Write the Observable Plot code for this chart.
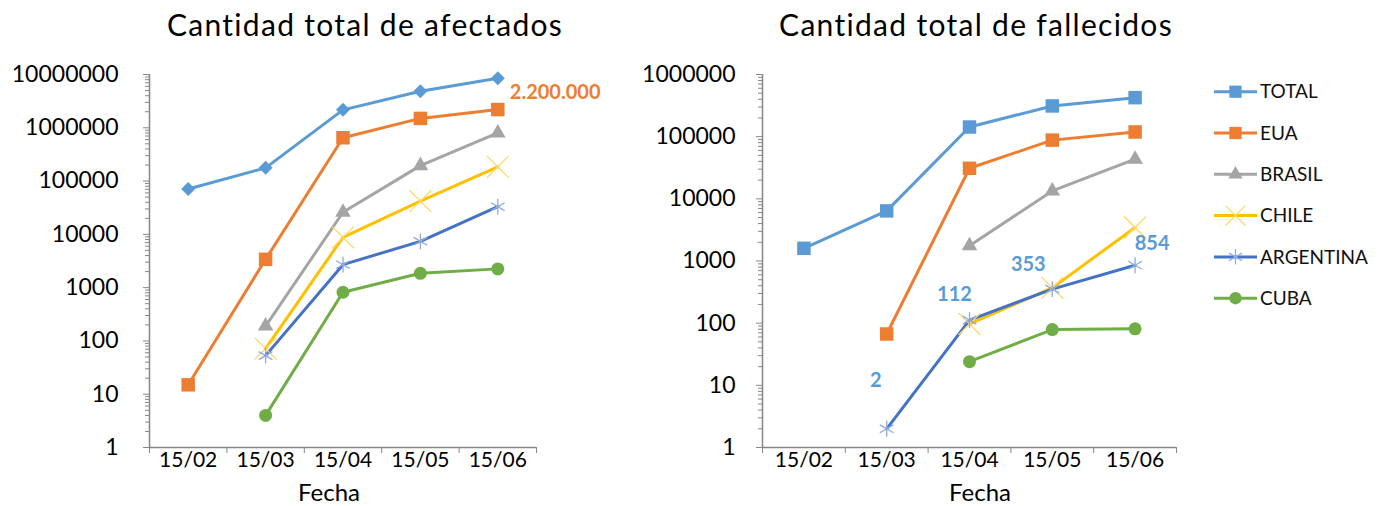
<!DOCTYPE html>
<html>
<head>
<meta charset="utf-8">
<script src="https://cdn.jsdelivr.net/npm/d3@7"></script>
<script src="https://cdn.jsdelivr.net/npm/@observablehq/plot@0.6"></script>
<style>
  body { margin: 0; background: #fff; }
  #wrap { position: relative; width: 1379px; height: 506px; overflow: hidden; font-family: Lato, sans-serif; background: #fff; }
  .abs { position: absolute; top: 0; }
  .lbl { position: absolute; white-space: nowrap; transform: translate(-50%, -50%); color: #000; line-height: 1; z-index: 2; }
  .title { font-size: 30px; letter-spacing: 1.3px; }
  .axt { font-size: 24px; }
</style>
</head>
<body>
<div id="wrap">
  <div class="lbl title" style="left:365px; top:24px;">Cantidad total de afectados</div>
  <div class="lbl title" style="left:976px; top:24px;">Cantidad total de fallecidos</div>
  <div class="lbl axt" style="left:329px; top:492px;">Fecha</div>
  <div class="lbl axt" style="left:980px; top:492px;">Fecha</div>
  <div id="left" class="abs" style="left:0px;"></div>
  <div id="right" class="abs" style="left:600px;"></div>
  <div id="legend" class="abs" style="left:1190px;"></div>
</div>
<script>
// ---- data ----
const fechas = ["15/02", "15/03", "15/04", "15/05", "15/06"];
const paises = ["TOTAL", "EUA", "BRASIL", "CHILE", "ARGENTINA", "CUBA"];

// Cantidad total de afectados
const afectadosTotal     = [71000, 177000, 2170000, 4840000, 8500000];
const afectadosEUA       = [15, 3400, 650000, 1500000, 2200000];
const afectadosBrasil    = [null, 190, 26000, 195000, 800000];
const afectadosChile     = [null, 72, 8800, 42000, 185000];
const afectadosArgentina = [null, 53, 2700, 7400, 33000];
const afectadosCuba      = [null, 4, 820, 1860, 2250];

// Cantidad total de fallecidos
const fallecidosTotal     = [1600, 6400, 143000, 312000, 424000];
const fallecidosEUA       = [null, 67, 31000, 88000, 119000];
const fallecidosBrasil    = [null, null, 1760, 13400, 43400];
const fallecidosChile     = [null, null, 97, 370, 3460];
const fallecidosArgentina = [null, 2, 112, 353, 854];
const fallecidosCuba      = [null, null, 24, 79, 81];

const ticksAfectados  = [1, 10, 100, 1000, 10000, 100000, 1000000, 10000000];
const ticksFallecidos = [1, 10, 100, 1000, 10000, 100000, 1000000];

// ---- styles ----
const colores = ["#5B9BD5", "#ED7D31", "#A5A5A5", "#FFC000", "#4472C4", "#70AD47"];
const marcador = {
  TOTAL:     {fill: "#5B9BD5"},
  EUA:       {fill: "#ED7D31", symbol: "square", r: 7.6},
  BRASIL:    {fill: "#A5A5A5", symbol: "triangle", r: 5.8},
  CHILE:     {stroke: "#FFD966", symbol: "times", r: 10},
  ARGENTINA: {stroke: "#8FAADC", symbol: "asterisk", r: 7.5},
  CUBA:      {fill: "#70AD47", symbol: "circle", r: 6.5}
};
const ejeColor = "#868686";
const esFmt = d3.formatLocale({decimal: ",", thousands: ".", grouping: [3], currency: ["", ""]}).format(",");

function filas(series) {
  return paises.flatMap((p, k) => fechas.map((f, i) => ({pais: p, i, v: series[k][i]})))
    .filter(d => d.v != null);
}
function minorTicks(maxExp) {
  const t = [];
  for (let e = 0; e < maxExp; e++) for (let m = 2; m <= 9; m++) t.push(m * Math.pow(10, e));
  return t;
}

function panel({series, ticks, width, marginLeft, marginRight, totalSymbol, totalR, tickPadding, extra}) {
  const data = filas(series);
  const maxExp = ticks.length - 1;
  const marks = [
    Plot.axisY({ticks: minorTicks(maxExp), tickSize: 4, fill: "none", stroke: ejeColor}),
    Plot.axisY({ticks, tickSize: 6, tickPadding, tickFormat: d => String(d), stroke: ejeColor, fill: "#000", fontSize: 23}),
    Plot.axisX({ticks: [-0.5, 0.5, 1.5, 2.5, 3.5, 4.5], tickSize: 6, fill: "none", stroke: ejeColor}),
    Plot.axisX({ticks: fechas.map((f, i) => i), tickSize: 0, tickPadding: 5, tickFormat: i => fechas[i], fill: "#000", fontSize: 21}),
    Plot.ruleX([-0.5], {stroke: ejeColor, strokeWidth: 1.5}),
    Plot.ruleY([1], {stroke: ejeColor, strokeWidth: 1.5}),
    Plot.line(data, {x: "i", y: "v", z: "pais", stroke: "pais", strokeWidth: 3})
  ];
  for (const p of paises) {
    const sub = data.filter(d => d.pais === p);
    const m = marcador[p];
    const opts = {x: "i", y: "v"};
    if (p === "TOTAL") { opts.symbol = totalSymbol; opts.r = totalR; opts.fill = m.fill; }
    else {
      opts.symbol = m.symbol; opts.r = m.r;
      if (m.fill) opts.fill = m.fill; else { opts.stroke = m.stroke; opts.strokeWidth = 1.3; opts.fill = "none"; }
    }
    marks.push(Plot.dot(sub, opts));
  }
  marks.push(...extra(data));
  return Plot.plot({
    width, height: 506,
    marginLeft, marginRight, marginTop: 74, marginBottom: 59,
    x: {type: "linear", domain: [-0.5, 4.5], label: null},
    y: {type: "log", domain: [1, ticks[ticks.length - 1]], label: null},
    color: {domain: paises, range: colores},
    style: {fontFamily: "Lato, sans-serif", fontSize: "20px", background: "transparent", overflow: "visible", color: "#000"},
    marks
  });
}

const left = panel({
  series: [afectadosTotal, afectadosEUA, afectadosBrasil, afectadosChile, afectadosArgentina, afectadosCuba],
  ticks: ticksAfectados,
  width: 620, marginLeft: 149, marginRight: 84,
  totalSymbol: "diamond2", totalR: 6.3, tickPadding: 25,
  extra: data => [
    Plot.text(data.filter(d => d.pais === "EUA" && d.i === 4), {
      x: "i", y: "v", text: d => esFmt(d.v), fill: "#ED7D31", fontWeight: "bold", fontSize: 20,
      textAnchor: "start", dx: 12, dy: -17
    })
  ]
});
document.getElementById("left").appendChild(left);

const etiquetaDx = [null, -11, -15, -24, 17];
const etiquetaDy = [null, -48, -26, -25, -22];
const right = panel({
  series: [fallecidosTotal, fallecidosEUA, fallecidosBrasil, fallecidosChile, fallecidosArgentina, fallecidosCuba],
  ticks: ticksFallecidos,
  width: 600, marginLeft: 162, marginRight: 24,
  totalSymbol: "square", totalR: 7.6, tickPadding: 21,
  extra: data => data.filter(d => d.pais === "ARGENTINA").map(d =>
    Plot.text([d], {
      x: "i", y: "v", text: r => esFmt(r.v), fill: "#5B9BD5", fontWeight: "bold", fontSize: 20,
      dx: etiquetaDx[d.i], dy: etiquetaDy[d.i]
    })
  )
});
document.getElementById("right").appendChild(right);

// ---- legend ----
const legSymbols = {TOTAL: d3.symbolSquare, EUA: d3.symbolSquare, BRASIL: d3.symbolTriangle, CHILE: d3.symbolTimes, ARGENTINA: d3.symbolAsterisk, CUBA: d3.symbolCircle};
const legSizes = {TOTAL: 150, EUA: 150, BRASIL: 90, CHILE: 260, ARGENTINA: 160, CUBA: 120};
const ox = 1190;
const svg = d3.select("#legend").append("svg").attr("width", 189).attr("height", 506)
  .style("font-family", "Lato, sans-serif");
paises.forEach((p, k) => {
  const y = 91.7 + k * 41.3;
  const g = svg.append("g").attr("transform", `translate(0,${y})`);
  g.append("line").attr("x1", 1214 - ox).attr("x2", 1257 - ox).attr("stroke", colores[k]).attr("stroke-width", 3);
  const m = marcador[p];
  const path = g.append("path").attr("transform", `translate(${1235.5 - ox},0)`)
    .attr("d", d3.symbol(legSymbols[p], legSizes[p])());
  if (m.fill || p === "TOTAL") path.attr("fill", colores[k]);
  else path.attr("fill", "none").attr("stroke", m.stroke).attr("stroke-width", 1.3);
  g.append("text").attr("x", 1260 - ox).attr("dy", "0.35em").attr("font-size", 19).attr("fill", "#111").text(p);
});
</script>
</body>
</html>
